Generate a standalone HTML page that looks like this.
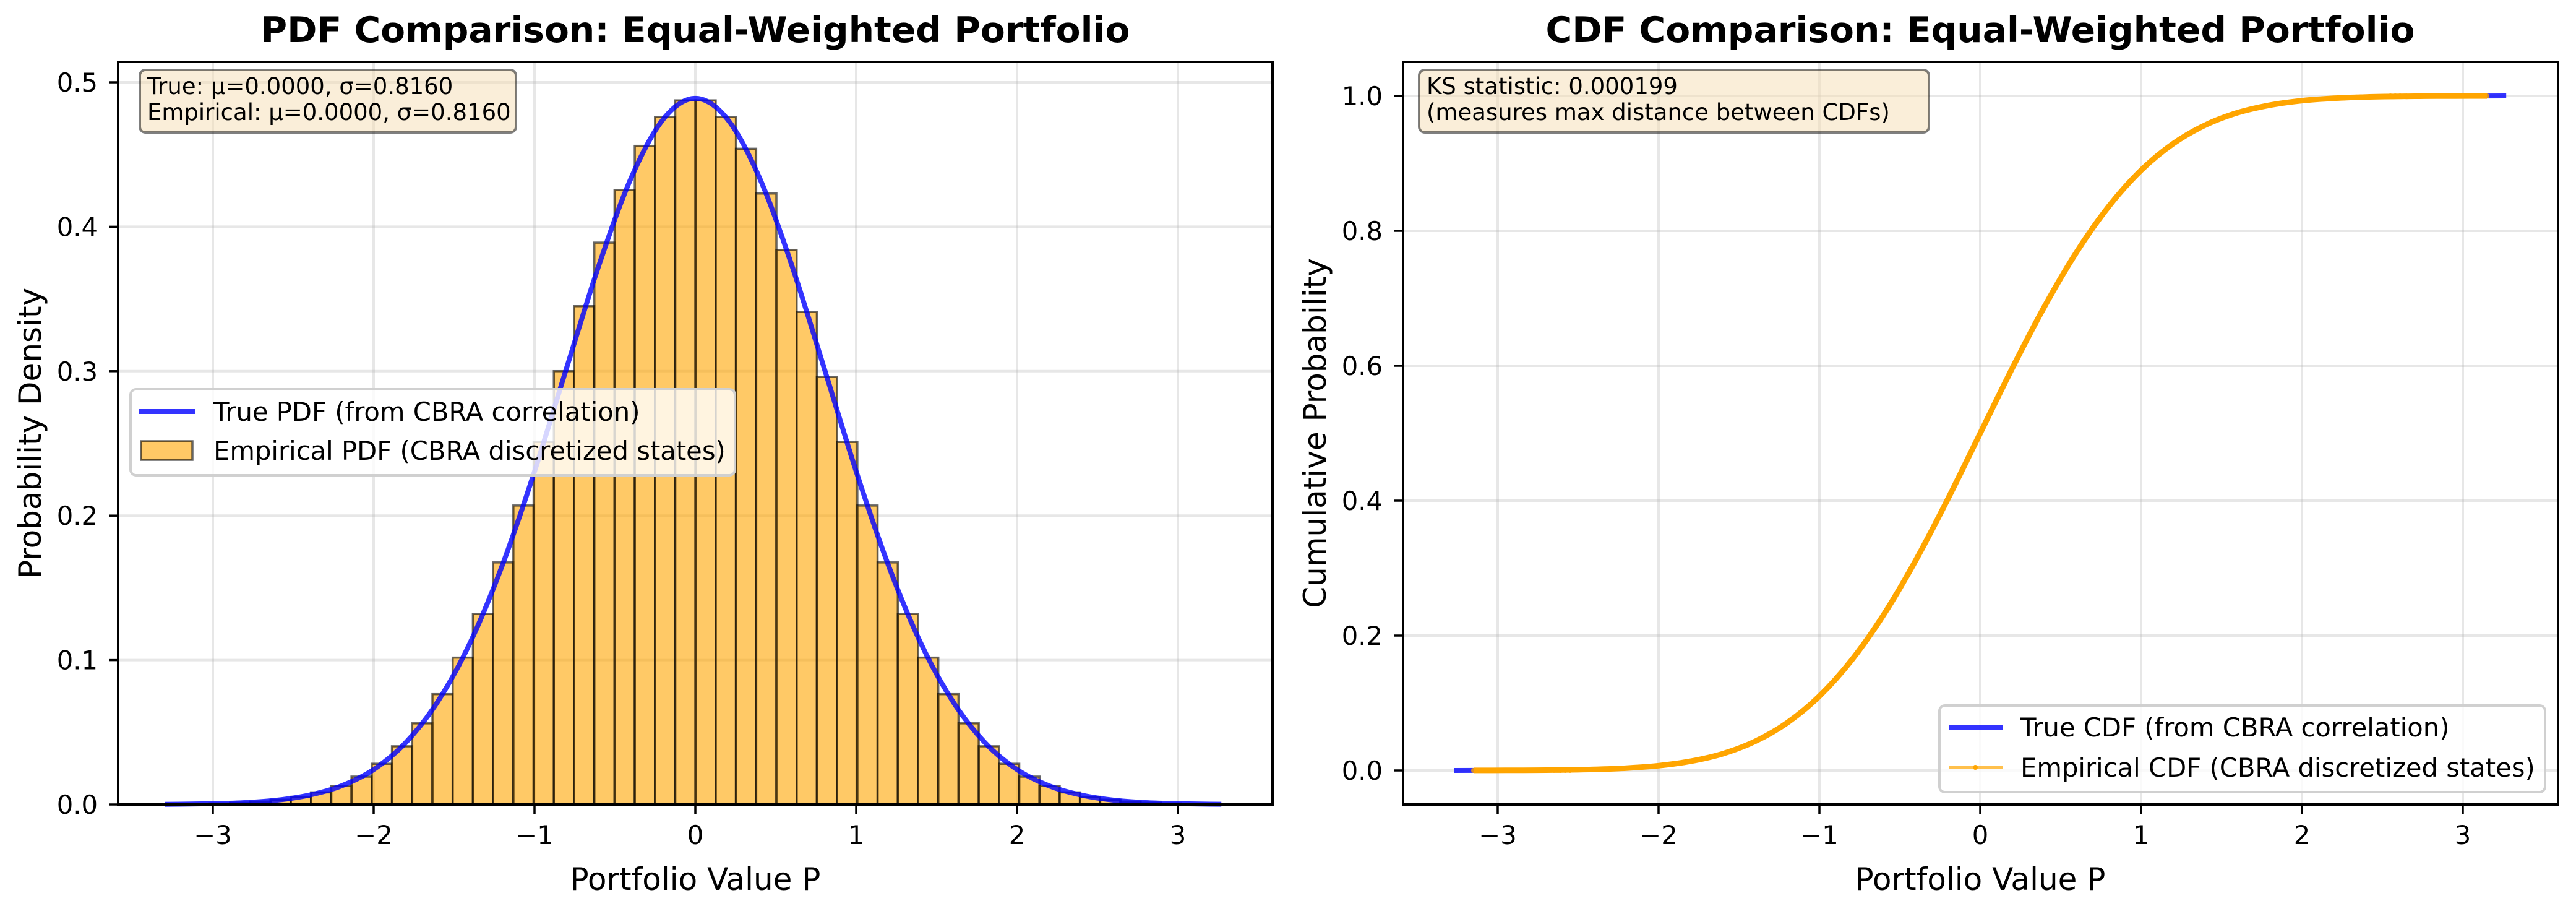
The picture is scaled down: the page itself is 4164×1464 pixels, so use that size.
<!DOCTYPE html>
<html><head><meta charset="utf-8">
<style>
html,body{margin:0;padding:0;background:#fff;}
svg{display:block;font-family:"DejaVu Sans","Liberation Sans",sans-serif;}
</style></head>
<body>
<svg id="fig" width="4164" height="1464" viewBox="0 0 4164 1464" xmlns="http://www.w3.org/2000/svg">
<rect x="0" y="0" width="4164" height="1464" fill="#fff"/>
<g id="left"></g>
<g id="right"></g>
</svg>
<script>
// ---- PDF chart data ----
const binStart = -3.27;
const binWidth = 0.1258;
const histHeights = [0.0002,0.0004,0.0007,0.0012,0.0020,0.0033,0.0053,0.0084,0.0129,0.0193,0.0282,0.0403,0.0562,0.0764,0.1017,0.132,0.1676,0.207,0.251,0.300,0.345,0.389,0.4255,0.456,0.476,0.4875,
 0.4875,0.476,0.454,0.423,0.384,0.341,0.296,0.251,0.207,0.1676,0.132,0.1017,0.0764,0.0562,0.0403,0.0282,0.0193,0.0129,0.0084,0.0053,0.0033,0.0020,0.0012,0.0007,0.0004,0.0002];
const pdfX = [-3.3,-3.2,-3.0,-2.8,-2.6,-2.4,-2.2,-2.0,-1.8,-1.6,-1.4,-1.2,-1.0,-0.8,-0.6,-0.4,-0.2,0,0.2,0.4,0.6,0.8,1.0,1.2,1.4,1.6,1.8,2.0,2.2,2.4,2.6,2.8,3.0,3.2,3.27];
const pdfY = [0.00013,0.00022,0.00057,0.0013,0.0030,0.0065,0.0129,0.0242,0.0429,0.0715,0.1121,0.1657,0.2306,0.3024,0.3732,0.4336,0.4744,0.4889,0.4744,0.4336,0.3732,0.3024,0.2306,0.1657,0.1121,0.0715,0.0429,0.0242,0.0129,0.0065,0.0030,0.0013,0.00057,0.00022,0.00015];
const pdfXTicks = [-3,-2,-1,0,1,2,3];
const pdfYTicks = [0.0,0.1,0.2,0.3,0.4,0.5];
const pdfYTickLabels = ["0.0","0.1","0.2","0.3","0.4","0.5"];
// ---- CDF chart data ----
const cdfX = [-3.27,-3.0,-2.8,-2.6,-2.4,-2.2,-2.0,-1.8,-1.6,-1.4,-1.2,-1.0,-0.8,-0.6,-0.4,-0.2,0,0.2,0.4,0.6,0.8,1.0,1.2,1.4,1.6,1.8,2.0,2.2,2.4,2.6,2.8,3.0,3.27];
const cdfTrue = [0.00002,0.00012,0.0003,0.0007,0.0016,0.0035,0.0071,0.0137,0.0249,0.0431,0.0707,0.1102,0.1635,0.2311,0.3120,0.4032,0.5,0.5968,0.6880,0.7689,0.8365,0.8898,0.9293,0.9569,0.9751,0.9863,0.9929,0.9965,0.9984,0.9993,0.9997,0.99988,0.99998];
const empX = [-3.15,-2.95,-2.84,-2.76,-2.70,-2.65,-2.6,-2.4,-2.2,-2.0,-1.8,-1.6,-1.4,-1.2,-1.0,-0.8,-0.6,-0.4,-0.2,0,0.2,0.4,0.6,0.8,1.0,1.2,1.4,1.6,1.8,2.0,2.2,2.4,2.6,2.65,2.7,2.76,2.84,2.95,3.15];
const empY = [0.0001,0.0002,0.0003,0.0004,0.0005,0.0006,0.0007,0.0016,0.0035,0.0071,0.0137,0.0249,0.0431,0.0707,0.1102,0.1635,0.2311,0.3120,0.4032,0.5,0.5968,0.6880,0.7689,0.8365,0.8898,0.9293,0.9569,0.9751,0.9863,0.9929,0.9965,0.9984,0.9993,0.9994,0.9995,0.9996,0.9997,0.9998,0.9999];
const empDotX = [-3.15,-2.95,-2.84,-2.76,-2.70,-2.65,-2.61,-2.58,-2.55,2.55,2.58,2.61,2.65,2.70,2.76,2.84,2.95,3.15];
const cdfYTicks = [0.0,0.2,0.4,0.6,0.8,1.0];
const cdfYTickLabels = ["0.0","0.2","0.4","0.6","0.8","1.0"];

const NS = "http://www.w3.org/2000/svg";
function mk(parent, tag, attrs, text){
  const e = document.createElementNS(NS, tag);
  for (const k in attrs) e.setAttribute(k, attrs[k]);
  if (text !== undefined) e.textContent = text;
  parent.appendChild(e);
  return e;
}
function smoothPath(pts){
  let d = "M" + pts[0][0].toFixed(1) + "," + pts[0][1].toFixed(1);
  for (let i = 0; i < pts.length - 1; i++){
    const p0 = pts[Math.max(0,i-1)], p1 = pts[i], p2 = pts[i+1], p3 = pts[Math.min(pts.length-1,i+2)];
    const c1x = p1[0] + (p2[0]-p0[0])/6, c1y = p1[1] + (p2[1]-p0[1])/6;
    const c2x = p2[0] - (p3[0]-p1[0])/6, c2y = p2[1] - (p3[1]-p1[1])/6;
    d += " C" + c1x.toFixed(1)+","+c1y.toFixed(1)+" "+c2x.toFixed(1)+","+c2y.toFixed(1)+" "+p2[0].toFixed(1)+","+p2[1].toFixed(1);
  }
  return d;
}

// ===== LEFT PANEL =====
(function(){
  const g = document.getElementById('left');
  const L = 191, R = 2057, T = 100, B = 1300;
  const x = v => 1124 + 260 * v;
  const y = v => B - 2334 * v;
  // grid
  pdfXTicks.forEach(t => {
    const ln = mk(g,'line',{x1:x(t),x2:x(t),y1:T,y2:B,stroke:'#b0b0b0','stroke-opacity':0.3,'stroke-width':4});
    
    
  });
  pdfYTicks.forEach(t => {
    const ln = mk(g,'line',{x1:L,x2:R,y1:y(t),y2:y(t),stroke:'#b0b0b0','stroke-opacity':0.3,'stroke-width':4});
    
    
  });
  // histogram
  const hg = mk(g,'g',{});
  
  
  histHeights.forEach((h,i) => {
    const x0 = x(binStart + i*binWidth), x1 = x(binStart + (i+1)*binWidth);
    const r = mk(hg,'rect',{x:x0,y:y(h),width:x1-x0,height:B-y(h),fill:'#ffa500','fill-opacity':0.6,stroke:'#000','stroke-opacity':0.6,'stroke-width':3.5});
    
    
  });
  // pdf curve
  const pts = pdfX.map((v,i) => [x(v), y(pdfY[i])]);
  const pc = mk(g,'path',{d:smoothPath(pts),fill:'none',stroke:'#0000ff','stroke-opacity':0.8,'stroke-width':8,'stroke-linejoin':'round'});
  
  
  // frame
  const fr = mk(g,'rect',{x:L,y:T,width:R-L,height:B-T,fill:'none',stroke:'#000','stroke-width':4});
  
  
  // ticks
  pdfXTicks.forEach(t => {
    mk(g,'line',{x1:x(t),x2:x(t),y1:B,y2:B+15,stroke:'#000','stroke-width':3.5});
    const tx = mk(g,'text',{x:x(t),y:1364,'font-size':41.7,'text-anchor':'middle',fill:'#000'}, t<0 ? '\u2212'+(-t) : String(t));
    
    
  });
  pdfYTicks.forEach((t,i) => {
    mk(g,'line',{x1:L-15,x2:L,y1:y(t),y2:y(t),stroke:'#000','stroke-width':3.5});
    const tx = mk(g,'text',{x:158,y:y(t)+15,'font-size':41.7,'text-anchor':'end',fill:'#000'}, pdfYTickLabels[i]);
    
    
  });
})();

// ===== RIGHT PANEL =====
(function(){
  const g = document.getElementById('right');
  const L = 2268, R = 4135, T = 100, B = 1300;
  const x = v => 3201 + 260 * v;
  const y = v => 1245 - 1090 * v;
  pdfXTicks.forEach(t => {
    const ln = mk(g,'line',{x1:x(t),x2:x(t),y1:T,y2:B,stroke:'#b0b0b0','stroke-opacity':0.3,'stroke-width':4});
    
    
  });
  cdfYTicks.forEach(t => {
    const ln = mk(g,'line',{x1:L,x2:R,y1:y(t),y2:y(t),stroke:'#b0b0b0','stroke-opacity':0.3,'stroke-width':4});
    
    
  });
  const tp = cdfX.map((v,i) => [x(v), y(cdfTrue[i])]);
  const tl = mk(g,'path',{d:smoothPath(tp),fill:'none',stroke:'#0000ff','stroke-opacity':0.8,'stroke-width':8});
  
  
  const ep = empX.map((v,i) => [x(v), y(empY[i])]);
  const el = mk(g,'path',{d:smoothPath(ep),fill:'none',stroke:'#ffa500','stroke-opacity':1,'stroke-width':9});
  
  
  const tail = mk(g,'path',{d:'M'+x(empX[0])+','+y(0)+' L'+x(-2.4)+','+y(0.0016)+' M'+x(2.4)+','+y(0.9984)+' L'+x(empX[empX.length-1])+','+y(1),stroke:'#ffa500','stroke-opacity':0.7,'stroke-width':3.5,fill:'none'});
  
  
  empDotX.forEach(v => {
    const c = mk(g,'circle',{cx:x(v),cy:y(v<0?0:1),r:4,fill:'#ffa500','fill-opacity':0.8});
    
    
  });
  const fr = mk(g,'rect',{x:L,y:T,width:R-L,height:B-T,fill:'none',stroke:'#000','stroke-width':4});
  
  
  pdfXTicks.forEach(t => {
    mk(g,'line',{x1:x(t),x2:x(t),y1:B,y2:B+15,stroke:'#000','stroke-width':3.5});
    const tx = mk(g,'text',{x:x(t),y:1364,'font-size':41.7,'text-anchor':'middle',fill:'#000'}, t<0 ? '\u2212'+(-t) : String(t));
    
    
  });
  cdfYTicks.forEach((t,i) => {
    mk(g,'line',{x1:L-15,x2:L,y1:y(t),y2:y(t),stroke:'#000','stroke-width':3.5});
    const tx = mk(g,'text',{x:2235,y:y(t)+15,'font-size':41.7,'text-anchor':'end',fill:'#000'}, cdfYTickLabels[i]);
    
    
  });
})();
</script>
<svg style="position:absolute;left:0;top:0" width="4164" height="1464" viewBox="0 0 4164 1464" xmlns="http://www.w3.org/2000/svg" font-family="DejaVu Sans, Liberation Sans, sans-serif">
  <!-- titles -->
  <text x="1124" y="68" font-size="57" font-weight="bold" text-anchor="middle" textLength="1405" lengthAdjust="spacingAndGlyphs">PDF Comparison: Equal-Weighted Portfolio</text>
  <text x="3201" y="68" font-size="57" font-weight="bold" text-anchor="middle" textLength="1405" lengthAdjust="spacingAndGlyphs">CDF Comparison: Equal-Weighted Portfolio</text>
  <!-- axis labels -->
  <text x="1124" y="1438" font-size="50" text-anchor="middle">Portfolio Value P</text>
  <text x="3201" y="1438" font-size="50" text-anchor="middle">Portfolio Value P</text>
  <text transform="translate(66,700) rotate(-90)" font-size="50" text-anchor="middle">Probability Density</text>
  <text transform="translate(2143,700) rotate(-90)" font-size="50" text-anchor="middle">Cumulative Probability</text>
  <!-- stats boxes -->
  <g>
    <rect x="226" y="113" width="608" height="101" rx="9" fill="#f5deb3" fill-opacity="0.5" stroke="#000" stroke-opacity="0.5" stroke-width="4"/>
    <text x="238" y="152" font-size="37">True: μ=0.0000, σ=0.8160</text>
    <text x="238" y="194" font-size="37">Empirical: μ=0.0000, σ=0.8160</text>
  </g>
  <g>
    <rect x="2294" y="113" width="824" height="101" rx="9" fill="#f5deb3" fill-opacity="0.5" stroke="#000" stroke-opacity="0.5" stroke-width="4"/>
    <text x="2306" y="152" font-size="37">KS statistic: 0.000199</text>
    <text x="2306" y="194" font-size="37">(measures max distance between CDFs)</text>
  </g>
  <!-- left legend -->
  <g>
    <rect x="211" y="629" width="977" height="139" rx="9" fill="#fff" fill-opacity="0.8" stroke="#d0d0d0" stroke-width="4"/>
    <line x1="224" y1="665" x2="315" y2="665" stroke="#0000ff" stroke-opacity="0.8" stroke-width="8"/>
    <text x="345" y="680" font-size="41.7">True PDF (from CBRA correlation)</text>
    <rect x="228" y="713" width="83" height="30" fill="#ffa500" fill-opacity="0.6" stroke="#000" stroke-opacity="0.6" stroke-width="3.5"/>
    <text x="345" y="743" font-size="41.7">Empirical PDF (CBRA discretized states)</text>
  </g>
  <!-- right legend -->
  <g>
    <rect x="3135" y="1140" width="979" height="140" rx="9" fill="#fff" fill-opacity="0.8" stroke="#d0d0d0" stroke-width="4"/>
    <line x1="3150" y1="1175" x2="3237" y2="1175" stroke="#0000ff" stroke-opacity="0.8" stroke-width="8"/>
    <text x="3266" y="1190" font-size="41.7">True CDF (from CBRA correlation)</text>
    <line x1="3150" y1="1240" x2="3237" y2="1240" stroke="#ffa500" stroke-opacity="0.7" stroke-width="4"/>
    <circle cx="3193" cy="1240" r="4" fill="#ffa500"/>
    <text x="3266" y="1255" font-size="41.7">Empirical CDF (CBRA discretized states)</text>
  </g>
</svg>
</body></html>
